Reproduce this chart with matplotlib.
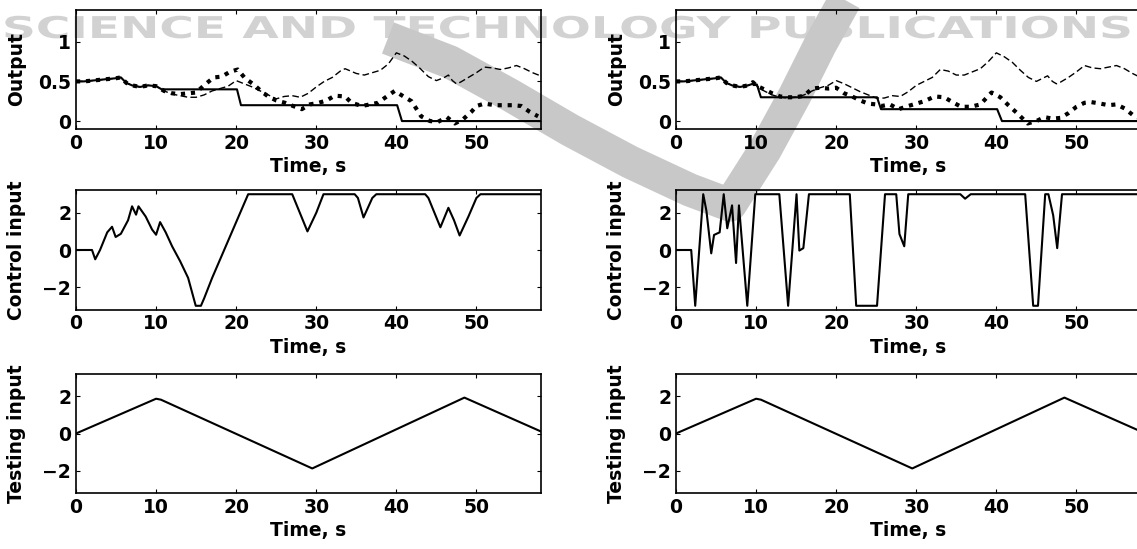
import numpy as np
import matplotlib
matplotlib.use('Agg')
import matplotlib.pyplot as plt
from matplotlib import patheffects
from matplotlib.lines import Line2D
from matplotlib.transforms import Affine2D, IdentityTransform

# ---- data ----
# output, left column (reference step, dashed, dotted)
t_ref_l = [0, 1, 2, 3, 4, 5, 5.6, 6.3, 7, 8, 9, 10, 10.7, 20.1, 20.6, 40.1, 40.7, 58]
y_ref_l = [0.50, 0.50, 0.51, 0.52, 0.53, 0.54, 0.55, 0.48, 0.45, 0.43, 0.45, 0.44,
           0.40, 0.40, 0.20, 0.20, 0.0, 0.0]

t_dash_l = [0, 1, 2, 3, 4, 5, 5.6, 6.3, 7, 8, 9, 10, 11, 12, 13, 14, 15, 16, 17, 18,
            19, 20, 21, 22, 23, 24, 25, 26, 27, 28, 29, 30, 31, 32, 33, 33.6, 34.3, 35,
            36, 37, 38, 39, 40, 41, 42, 43, 44, 45, 46, 46.5, 47, 47.5, 48, 49, 50, 51,
            52, 53, 54, 55, 56, 57, 58]
y_dash_l = [0.50, 0.50, 0.51, 0.52, 0.53, 0.54, 0.55, 0.48, 0.45, 0.43, 0.45, 0.44,
            0.38, 0.34, 0.32, 0.30, 0.30, 0.33, 0.38, 0.41, 0.44, 0.51, 0.47, 0.43,
            0.38, 0.33, 0.28, 0.31, 0.32, 0.30, 0.35, 0.43, 0.50, 0.55, 0.63, 0.66,
            0.63, 0.60, 0.58, 0.61, 0.64, 0.72, 0.86, 0.82, 0.75, 0.66, 0.56, 0.51,
            0.55, 0.58, 0.51, 0.47, 0.49, 0.55, 0.61, 0.68, 0.67, 0.65, 0.67, 0.70,
            0.66, 0.61, 0.57]

t_dot_l = [0, 1, 2, 3, 4, 5, 5.6, 6.3, 7, 8, 9, 10, 11, 12, 13, 14, 15, 16.1, 17.2,
           18.2, 19.2, 20.2, 21.1, 22.2, 23.2, 24, 25, 26.1, 27.1, 28.2, 29.2, 30.3,
           31.3, 32.3, 33.6, 34.4, 35.7, 36.7, 37.7, 38.8, 39.8, 40.9, 41.9, 43.1,
           44.2, 45.2, 46.3, 47.3, 48.3, 49.4, 50, 51, 52.3, 53.5, 54.6, 55.6, 56.6,
           57.7]
y_dot_l = [0.50, 0.50, 0.51, 0.52, 0.53, 0.54, 0.55, 0.48, 0.45, 0.43, 0.45, 0.44,
           0.38, 0.35, 0.34, 0.35, 0.36, 0.46, 0.55, 0.56, 0.62, 0.65, 0.54, 0.46,
           0.37, 0.31, 0.26, 0.23, 0.19, 0.15, 0.21, 0.23, 0.26, 0.32, 0.31, 0.23,
           0.19, 0.21, 0.23, 0.31, 0.38, 0.31, 0.25, 0.06, 0.0, -0.01, 0.05, -0.03,
           0.02, 0.12, 0.19, 0.22, 0.20, 0.20, 0.20, 0.19, 0.12, 0.06]

# output, right column
t_ref_r = [0, 1, 2, 3, 4, 5, 5.6, 6.3, 7, 8, 9, 9.6, 10.1, 10.6, 25.1, 25.6, 40.1,
           40.7, 58]
y_ref_r = [0.50, 0.50, 0.51, 0.52, 0.53, 0.54, 0.55, 0.48, 0.45, 0.43, 0.45, 0.47,
           0.46, 0.30, 0.30, 0.15, 0.15, 0.0, 0.0]

t_dash_r = [0, 1, 2, 3, 4, 5, 5.6, 6.3, 7, 8, 9, 10, 11, 12, 13, 14, 15, 16, 17, 18,
            19, 20, 21, 22, 23, 24, 25, 26, 27, 28, 29, 30, 31, 32, 33, 34, 35, 36,
            37, 38, 39, 40, 41, 42, 43, 44, 45, 46, 46.4, 47, 47.5, 48, 49, 50, 51,
            52, 53, 54, 55, 56, 57, 58]
y_dash_r = [0.50, 0.50, 0.51, 0.52, 0.53, 0.54, 0.55, 0.48, 0.45, 0.43, 0.45, 0.45,
            0.38, 0.33, 0.30, 0.29, 0.30, 0.33, 0.38, 0.42, 0.45, 0.51, 0.47, 0.42,
            0.37, 0.33, 0.29, 0.29, 0.32, 0.31, 0.37, 0.45, 0.50, 0.55, 0.65, 0.63,
            0.58, 0.58, 0.62, 0.66, 0.75, 0.86, 0.81, 0.74, 0.64, 0.55, 0.50, 0.55,
            0.57, 0.50, 0.47, 0.49, 0.55, 0.62, 0.70, 0.67, 0.66, 0.68, 0.70, 0.66,
            0.60, 0.55]

t_dot_r = [0, 1, 2, 3, 4, 5, 5.6, 6.3, 7, 8, 9, 9.6, 10, 11, 12, 13, 14, 15, 16, 17,
           18, 19, 20, 21, 22, 23, 24, 25, 25.7, 26.7, 27.8, 29, 30, 31, 32.3, 33.5,
           34.5, 35.6, 36.8, 38, 39.4, 40.5, 41.5, 42.7, 43.9, 45, 46, 47, 48, 49,
           50, 51, 51.8, 53, 54, 55, 56, 57, 58]
y_dot_r = [0.50, 0.50, 0.51, 0.52, 0.53, 0.54, 0.55, 0.48, 0.45, 0.43, 0.45, 0.49,
           0.45, 0.40, 0.35, 0.31, 0.30, 0.30, 0.32, 0.41, 0.42, 0.41, 0.42, 0.35,
           0.31, 0.26, 0.22, 0.21, 0.19, 0.21, 0.15, 0.19, 0.22, 0.25, 0.31, 0.30,
           0.24, 0.18, 0.18, 0.21, 0.36, 0.30, 0.20, 0.09, -0.03, 0.0, 0.05, 0.03,
           0.04, 0.10, 0.18, 0.23, 0.24, 0.22, 0.20, 0.21, 0.16, 0.08, 0.03]

# control input
t_u_l = [0, 2.0, 2.4, 3, 3.9, 4.5, 4.95, 5.6, 6.5, 7.0, 7.5, 7.8, 8.7, 9.5, 10.0, 10.5,
         11.2, 12, 13, 14, 14.95, 15.6, 16, 17, 18, 19, 20, 21, 21.5, 27.0, 28.9, 30,
         30.9, 34.8, 35.2, 35.9, 37, 37.5, 43.6, 44, 45.5, 46.5, 47.2, 47.9, 49, 50,
         50.5, 58]
u_l = [0, 0, -0.5, 0, 0.95, 1.25, 0.7, 0.87, 1.6, 2.35, 1.9, 2.35, 1.8, 1.1, 0.82, 1.5,
       0.95, 0.2, -0.6, -1.5, -3.0, -3.0, -2.6, -1.5, -0.5, 0.5, 1.5, 2.5, 3.0, 3.0,
       1.0, 2.0, 3.0, 3.0, 2.8, 1.75, 2.8, 3.0, 3.0, 2.8, 1.22, 2.27, 1.6, 0.78, 1.8,
       2.8, 3.0, 3.0]

t_u_r = [0, 1.9, 2.4, 3.4, 3.8, 4.4, 4.75, 5.45, 5.96, 6.4, 7.0, 7.5, 7.86, 8.9, 9.9,
         12.9, 14.0, 15.05, 15.4, 15.9, 16.6, 21.7, 22.5, 25.1, 26.1, 27.5, 27.9, 28.5,
         29.0, 35.5, 36.1, 36.8, 43.6, 44.6, 45.2, 46.1, 46.5, 47.1, 47.6, 48.2, 58]
u_r = [0, 0, -3.0, 3.0, 2.1, -0.18, 0.81, 0.95, 3.0, 1.17, 2.4, -0.7, 2.4, -3.0, 3.0,
       3.0, -3.0, 3.0, -0.03, 0.1, 3.0, 3.0, -3.0, -3.0, 3.0, 3.0, 0.86, 0.2, 3.0,
       3.0, 2.76, 3.0, 3.0, -3.0, -3.0, 3.0, 3.0, 1.86, 0.1, 3.0, 3.0]

# testing input (same in both columns)
t_test = [0, 10, 10.6, 29.5, 48.5, 58]
v_test = [0, 1.87, 1.82, -1.88, 1.93, 0.12]

# watermark (pixel positions of the grey swoosh centre line)
logo_x = [388, 450, 510, 570, 630, 690, 730, 765, 795, 820, 845]
logo_y = [38, 62, 95, 130, 162, 190, 205, 150, 95, 45, 0]
wm_text = 'SCIENCE AND TECHNOLOGY PUBLICATIONS'


class Wide(patheffects.AbstractPathEffect):
    # stretch the glyphs along the text direction
    def __init__(self, sx):
        super().__init__()
        self.sx = sx

    def draw_path(self, renderer, gc, tpath, affine, rgbFace=None):
        renderer.draw_path(gc, tpath, Affine2D().scale(self.sx, 1) + affine, rgbFace)


plt.rcParams['font.family'] = 'DejaVu Sans'
plt.rcParams['font.weight'] = 'bold'
plt.rcParams['font.size'] = 13.5

W, H = 1137, 549
fig = plt.figure(figsize=(W/100, H/100), dpi=100)

lefts = [76, 676]
bottoms = [420, 239.5, 56]


def panel(col, row):
    ax = fig.add_axes([lefts[col]/W, bottoms[row]/H, 464.5/W, 119/H])
    ax.set_facecolor('none')
    ax.set_xlim(0, 58)
    ax.set_xticks(range(0, 51, 10))
    ax.tick_params(direction='in', top=True, right=True, length=3, width=0.8, pad=3.5)
    for s in ax.spines.values():
        s.set_linewidth(1.2)
    ax.set_xlabel('Time, s', fontweight='bold', labelpad=3)
    return ax


outputs = [(t_ref_l, y_ref_l, t_dash_l, y_dash_l, t_dot_l, y_dot_l),
           (t_ref_r, y_ref_r, t_dash_r, y_dash_r, t_dot_r, y_dot_r)]
controls = [(t_u_l, u_l), (t_u_r, u_r)]

for col in range(2):
    tr, yr, td, yd, to, yo = outputs[col]
    ax = panel(col, 0)
    ax.plot(tr, yr, color='black', lw=1.5)
    ax.plot(td, yd, color='black', lw=1.0, linestyle=(0, (4.8, 2.4)))
    ax.plot(to, yo, color='black', lw=3.0, linestyle=(0, (1, 1.4)))
    ax.set_ylim(-0.1, 1.4)
    ax.set_yticks([0, 0.5, 1])
    ax.set_yticklabels(['0', '0.5', '1'])
    ax.set_ylabel('Output', fontweight='bold')
    ax.yaxis.set_label_coords(-0.108, 0.5)

    ax = panel(col, 1)
    ax.plot(controls[col][0], controls[col][1], color='black', lw=1.5)
    ax.set_ylim(-3.2, 3.2)
    ax.set_yticks([-2, 0, 2])
    ax.set_ylabel('Control input', fontweight='bold')
    ax.yaxis.set_label_coords(-0.108, 0.5)

    ax = panel(col, 2)
    ax.plot(t_test, v_test, color='black', lw=1.5)
    ax.set_ylim(-3.2, 3.2)
    ax.set_yticks([-2, 0, 2])
    ax.set_ylabel('Testing input', fontweight='bold')
    ax.yaxis.set_label_coords(-0.108, 0.5)

# grey publisher watermark behind everything
band = Line2D(logo_x, [H - v for v in logo_y], transform=IdentityTransform(),
              color='#c8c8c8', lw=24, solid_joinstyle='round', solid_capstyle='butt',
              zorder=-1)
fig.add_artist(band)

wm = fig.text(2/W, (H - 38)/H, wm_text, fontsize=21.6, color='#d2d2d2',
              ha='left', va='baseline', zorder=-2)
fig.canvas.draw()
wm.set_path_effects([Wide(1131/wm.get_window_extent().width)])

fig.savefig('out.png', dpi=100)
